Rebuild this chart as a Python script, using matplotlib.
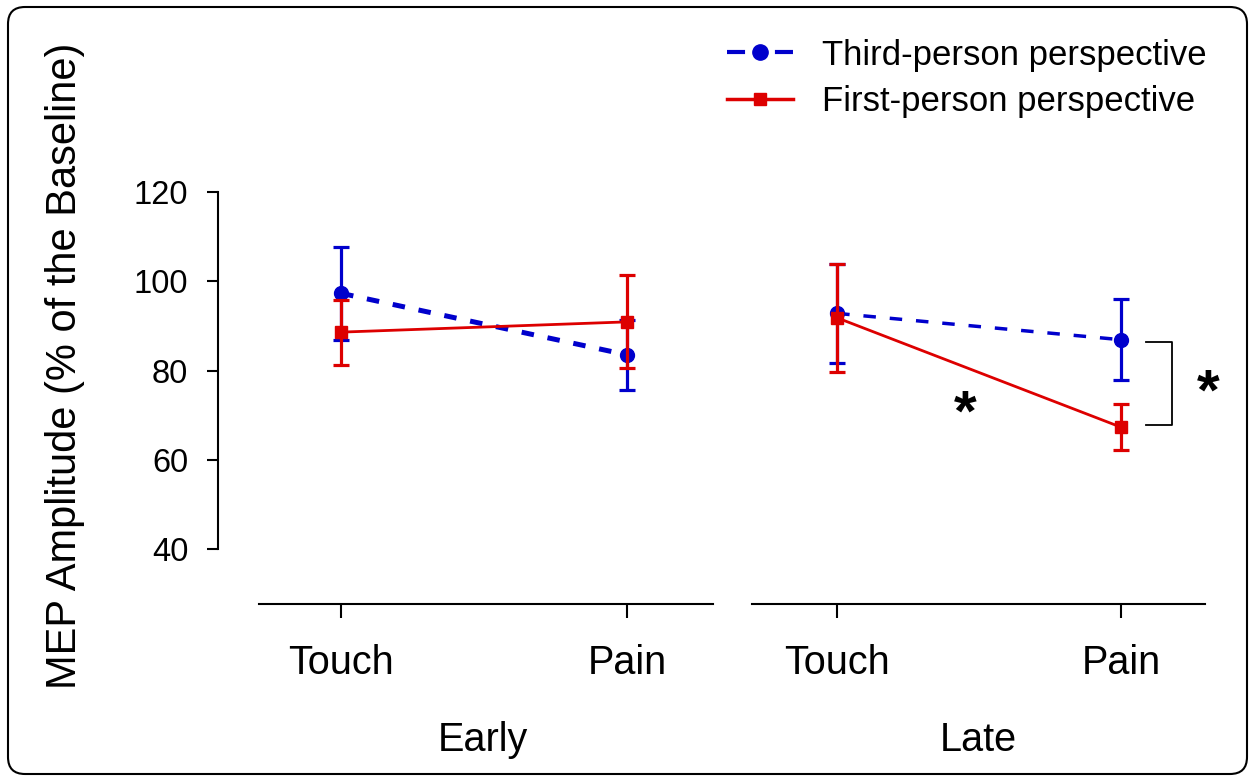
import matplotlib
matplotlib.use('Agg')
import matplotlib.pyplot as plt
from matplotlib.patches import FancyBboxPatch
from matplotlib.lines import Line2D

plt.rcParams['font.family'] = ['Liberation Sans', 'DejaVu Sans']
plt.rcParams['lines.scale_dashes'] = False

# data
groups = ['Early', 'Late']
conditions = ['Touch', 'Pain']
third_mean = [[97.3, 83.5], [92.8, 86.9]]
third_err = [[10.4, 7.9], [11.1, 9.1]]
first_mean = [[88.6, 90.9], [91.8, 67.3]]
first_err = [[7.3, 10.4], [12.1, 5.1]]
third_lw = [3.6, 2.5]

blue = '#0000cc'
red = '#dd0000'

fig = plt.figure(figsize=(12.49, 7.76), dpi=100)

# rounded frame around the whole figure
frame = FancyBboxPatch((0.08, 0.02), 12.39, 7.67,
                       boxstyle='round,pad=0,rounding_size=0.17',
                       transform=fig.dpi_scale_trans, fill=False,
                       edgecolor='black', linewidth=1.5)
fig.patches.append(frame)

bottom = (776 - 549) / 776
height = (549 - 169.7) / 776
ax1 = fig.add_axes([259 / 1249, bottom, 454 / 1249, height])
ax2 = fig.add_axes([752 / 1249, bottom, 453 / 1249, height])
axes = [ax1, ax2]
xlims = [(-0.287, 1.30), (-0.30, 1.296)]
group_x = [483, 978]
x = [0, 1]

for i, ax in enumerate(axes):
    ax.errorbar(x, third_mean[i], yerr=third_err[i], color=blue,
                linestyle=(0, (9, 10)), linewidth=third_lw[i], marker='o',
                markersize=10, elinewidth=2.3, capsize=6, capthick=2.3, zorder=3)
    ax.errorbar(x, first_mean[i], yerr=first_err[i], color=red,
                linestyle='-', linewidth=2.0, marker='s', markersize=9,
                elinewidth=2.3, capsize=6, capthick=2.3, zorder=4)
    ax.set_xlim(*xlims[i])
    ax.set_ylim(40, 125)
    ax.set_xticks(x)
    ax.set_xticklabels(conditions)
    ax.tick_params(axis='x', length=10, width=1.5, pad=19, labelsize=28.5)
    ax.spines['top'].set_visible(False)
    ax.spines['right'].set_visible(False)
    ax.spines['bottom'].set_position(('outward', 39.6))
    ax.spines['bottom'].set_linewidth(1.5)
    ax.patch.set_visible(False)
    fig.text(group_x[i] / 1249, 1 - 751 / 776, groups[i], ha='center',
             va='baseline', fontsize=28.5)

ax1.spines['left'].set_position(('outward', 29.5))
ax1.spines['left'].set_bounds(40, 120)
ax1.spines['left'].set_linewidth(1.5)
ax1.set_yticks([40, 60, 80, 100, 120])
ax1.tick_params(axis='y', length=8, width=1.5, pad=13.5, labelsize=23.5)
ax2.spines['left'].set_visible(False)
ax2.set_yticks([])

fig.text(65 / 1249, 1 - 366 / 776, 'MEP Amplitude (% of the Baseline)',
         rotation=90, ha='center', va='center', fontsize=30)

# significance marks
bx0, bx1 = 1.088, 1.18
ax2.plot([bx0, bx1, bx1, bx0],
         [third_mean[1][1] - 0.5, third_mean[1][1] - 0.5,
          first_mean[1][1] + 0.4, first_mean[1][1] + 0.4],
         color='black', linewidth=1.3, clip_on=False)
ax2.text(1.306, 74.7, '*', fontsize=42, fontweight='bold', ha='center',
         va='center', clip_on=False)
ax2.text(0.45, 70.0, '*', fontsize=42, fontweight='bold', ha='center',
         va='center')

handles = [Line2D([], [], color=blue, linestyle=(0, (13, 21.5)), linewidth=3.0,
                  marker='o', markersize=11),
           Line2D([], [], color=red, linestyle='-', linewidth=2.5,
                  marker='s', markersize=9)]
fig.legend(handles, ['Third-person perspective', 'First-person perspective'],
           loc='center left', bbox_to_anchor=(727 / 1249, 1 - 78.5 / 776),
           frameon=False, fontsize=25, handlelength=1.9, handletextpad=0.85,
           labelspacing=0.4, borderpad=0, borderaxespad=0)

fig.savefig('out.png', dpi=100)
